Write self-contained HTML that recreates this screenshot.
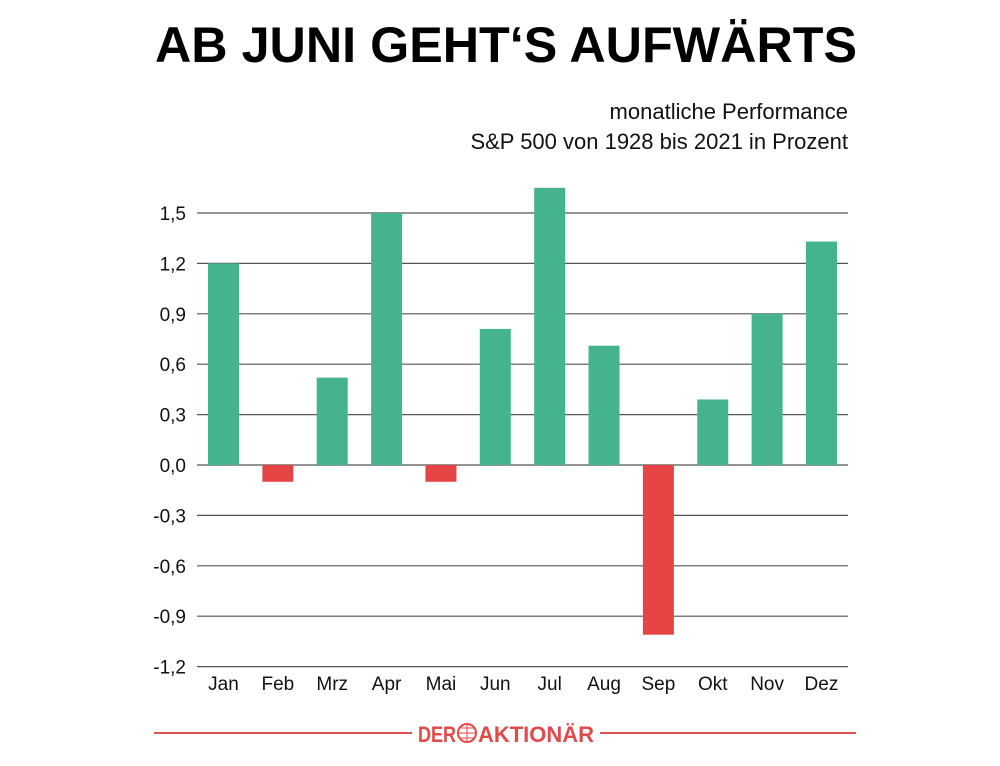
<!DOCTYPE html>
<html><head><meta charset="utf-8"><style>html,body{margin:0;padding:0;background:#fff}svg{display:block}</style></head>
<body>
<svg id="chart" width="1000" height="766" xmlns="http://www.w3.org/2000/svg" font-family="Liberation Sans, sans-serif">
<text x="155" y="62" font-size="50" font-weight="bold" textLength="702" lengthAdjust="spacingAndGlyphs" fill="#000">AB JUNI GEHT‘S AUFWÄRTS</text>
<text x="848" y="119" font-size="22" text-anchor="end" fill="#111">monatliche Performance</text>
<text x="848" y="149" font-size="22" text-anchor="end" fill="#111">S&amp;P 500 von 1928 bis 2021 in Prozent</text>
<g id="grid"></g><g id="bars"></g><g id="xlabels"></g>
<g>
<line x1="154" y1="733" x2="412" y2="733" stroke="#e05050" stroke-width="2"/>
<line x1="600" y1="733" x2="856" y2="733" stroke="#e05050" stroke-width="2"/>
<text x="418" y="742" font-size="22" font-weight="bold" fill="#e04a4a" textLength="38" lengthAdjust="spacingAndGlyphs">DER</text>
<circle cx="467" cy="733" r="9" fill="none" stroke="#e04a4a" stroke-width="2"/>
<path d="M458 733h18M467 724v18M460 728h14M460 738h14" stroke="#e04a4a" stroke-width="1"/>
<text x="478" y="742" font-size="22" font-weight="bold" fill="#e04a4a" textLength="116" lengthAdjust="spacingAndGlyphs">AKTIONÄR</text>
</g>
</svg>
<script>
const months = ["Jan","Feb","Mrz","Apr","Mai","Jun","Jul","Aug","Sep","Okt","Nov","Dez"];
const values = [1.20,-0.10,0.52,1.50,-0.10,0.81,1.65,0.71,-1.01,0.39,0.90,1.33];
const ticks = [1.5,1.2,0.9,0.6,0.3,0.0,-0.3,-0.6,-0.9,-1.2];
const NS="http://www.w3.org/2000/svg";
const y = v => 465 - v*168;
const x = i => 208 + i*54.36;
const bw = 31;
function mk(t,a,p){const e=document.createElementNS(NS,t);for(const k in a)e.setAttribute(k,a[k]);p.appendChild(e);return e;}
const grid=document.getElementById('grid'),bars=document.getElementById('bars'),xl=document.getElementById('xlabels');
ticks.forEach(t=>{
  const l=mk('line',{x1:197,x2:848,y1:y(t),y2:y(t),stroke:'#555','stroke-width':1.2},grid);
  
  
  const tx=mk('text',{x:186,y:y(t)+7,'font-size':19,'text-anchor':'end',fill:'#111'},grid);
  tx.textContent=t.toFixed(1).replace('.',',');
  
  
});
values.forEach((v,i)=>{
  const r=mk('rect',{x:x(i),y:Math.min(y(v),y(0)),width:bw,height:Math.abs(y(v)-y(0)),fill:v>=0?'#45b48e':'#e54444'},bars);
  
  
  const t=mk('text',{x:x(i)+bw/2,y:690,'font-size':19,'text-anchor':'middle',fill:'#111'},xl);
  t.textContent=months[i];
  
  
});
</script>
</body></html>
